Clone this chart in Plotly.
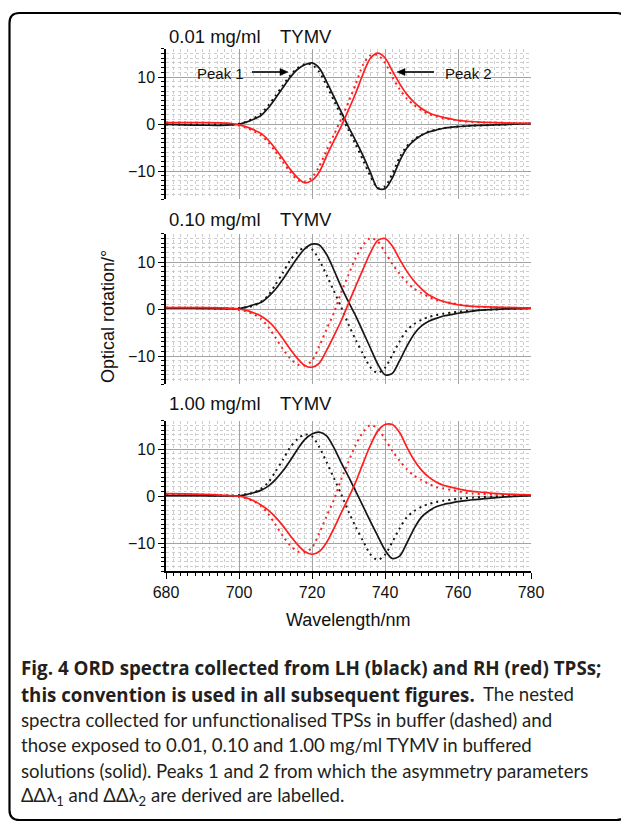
import plotly.graph_objects as go

# ---------------- data ----------------
wavelength = [680, 685, 690, 695,
              698, 700, 702, 704, 706, 708, 710, 712, 714, 716, 718, 720, 722, 724, 726, 728,
              730, 732, 734, 736, 738, 740, 742, 744, 746, 748, 750, 752, 754, 756, 758, 760,
              762, 764, 766,
              770, 775, 780]

panel_titles = ["0.01 mg/ml", "0.10 mg/ml", "1.00 mg/ml"]
virus_label = "TYMV"

# 0.01 mg/ml TYMV
p1_lh_tymv = [-0.1, -0.2, -0.25, -0.3,
              -0.2, -0.05, 0.4, 1.0, 1.8, 3.4, 5.5, 7.7, 9.9, 11.6, 12.6, 13.0, 11.9, 9.0, 5.8, 2.6,
              -0.6, -3.6, -6.8, -10.3, -13.7, -13.8, -11.5, -7.9, -5.1, -3.5, -2.4, -1.7, -1.3, -0.9, -0.7, -0.55,
              -0.45, -0.35, -0.3,
              -0.2, -0.05, 0.1]
p1_lh_buffer = [-0.1, -0.15, -0.2, -0.2,
                -0.15, 0.05, 0.5, 1.2, 2.2, 3.9, 6.0, 8.2, 10.3, 11.9, 12.7, 12.6, 11.1, 8.2, 5.0, 1.8,
                -1.3, -4.4, -7.7, -11.1, -13.6, -13.3, -10.6, -7.1, -4.7, -3.3, -2.3, -1.6, -1.2, -0.9, -0.7, -0.55,
                -0.45, -0.35, -0.3,
                -0.2, -0.05, 0.1]
p1_rh_tymv = [0.3, 0.3, 0.3, 0.25,
              0.1, -0.2, -0.6, -1.2, -2.0, -3.4, -5.3, -7.4, -9.6, -11.4, -12.5, -12.0, -10.2, -6.8, -3.6, -0.5,
              3.0, 6.6, 10.7, 14.0, 15.1, 14.1, 11.3, 8.6, 6.3, 4.6, 3.3, 2.4, 1.8, 1.4, 1.1, 0.8,
              0.6, 0.5, 0.4,
              0.3, 0.2, 0.15]
p1_rh_buffer = [0.3, 0.3, 0.25, 0.2,
                0.0, -0.3, -0.8, -1.5, -2.4, -3.9, -5.9, -8.0, -10.2, -11.9, -12.3, -11.4, -9.0, -5.6, -2.3, 1.1,
                4.7, 8.5, 12.6, 14.6, 14.7, 13.0, 10.0, 7.4, 5.4, 4.0, 2.9, 2.1, 1.6, 1.2, 1.0, 0.75,
                0.55, 0.45, 0.35,
                0.3, 0.2, 0.15]

# 0.10 mg/ml TYMV
p2_lh_tymv = [0.2, 0.2, 0.15, 0.1,
              0.05, 0.1, 0.4, 0.9, 1.4, 2.6, 4.2, 6.3, 8.6, 10.9, 12.8, 13.8, 13.6, 11.6, 8.3, 4.7,
              1.5, -1.5, -4.9, -8.3, -11.7, -14.0, -13.7, -11.0, -7.9, -5.3, -3.6, -2.6, -2.0, -1.5, -1.2, -0.9,
              -0.65, -0.45, -0.25,
              -0.1, 0.1, 0.2]
p2_rh_tymv = [0.3, 0.3, 0.3, 0.25,
              0.15, 0.0, -0.3, -0.8, -1.5, -2.6, -4.2, -6.3, -8.5, -10.5, -12.0, -12.4, -11.5, -8.8, -5.7, -2.5,
              1.2, 4.9, 8.5, 12.0, 14.6, 15.0, 13.4, 10.6, 8.0, 5.9, 4.3, 3.0, 2.2, 1.6, 1.2, 0.9,
              0.7, 0.55, 0.5,
              0.4, 0.3, 0.2]

# 1.00 mg/ml TYMV
p3_lh_tymv = [0.1, 0.1, 0.05, 0.0,
              0.0, 0.05, 0.3, 0.7, 1.2, 2.1, 3.5, 5.3, 7.5, 9.9, 12.0, 13.2, 13.6, 12.8, 10.3, 7.1,
              4.1, 1.0, -2.2, -5.4, -8.5, -11.5, -13.3, -12.8, -10.0, -6.9, -4.5, -3.2, -2.3, -1.8, -1.5, -1.2,
              -1.0, -0.8, -0.65,
              -0.4, -0.1, 0.1]
p3_rh_tymv = [0.5, 0.45, 0.35, 0.2,
              0.05, 0.0, -0.4, -1.0, -1.9, -3.0, -4.5, -6.3, -8.4, -10.3, -11.8, -12.4, -11.8, -9.9, -6.9, -3.6,
              -0.4, 3.0, 7.0, 10.8, 13.8, 15.2, 15.2, 13.5, 10.4, 7.6, 5.5, 4.0, 3.0, 2.3, 1.9, 1.5,
              1.2, 1.0, 0.85,
              0.55, 0.35, 0.25]

# buffer (dashed) spectra shown in the 0.10 and 1.00 mg/ml panels
p23_lh_buffer = [0.2, 0.2, 0.15, 0.1,
                 0.1, 0.2, 0.4, 0.7, 1.5, 2.9, 5.2, 7.7, 10.3, 12.1, 13.1, 12.7, 10.4, 7.2, 3.8, 0.4,
                 -3.3, -6.6, -9.6, -12.4, -13.6, -12.5, -9.8, -6.9, -4.5, -3.2, -2.3, -1.7, -1.3, -1.0, -0.8, -0.6,
                 -0.45, -0.35, -0.25,
                 -0.1, 0.05, 0.15]
p23_rh_buffer = [0.3, 0.3, 0.3, 0.2,
                 0.0, -0.2, -0.5, -1.1, -2.1, -3.8, -6.1, -8.5, -10.5, -11.8, -12.0, -11.0, -7.9, -4.3, -0.8, 3.5,
                 7.3, 10.9, 13.6, 15.1, 14.4, 12.1, 9.6, 7.5, 5.7, 4.3, 3.4, 2.6, 1.9, 1.6, 1.3, 1.0,
                 0.7, 0.55, 0.45,
                 0.35, 0.25, 0.2]

x_ticks = [680, 700, 720, 740, 760, 780]
y_ticks = [-10, 0, 10]

panels = [
    dict(lh=p1_lh_tymv, rh=p1_rh_tymv, lh_buf=p1_lh_buffer, rh_buf=p1_rh_buffer),
    dict(lh=p2_lh_tymv, rh=p2_rh_tymv, lh_buf=p23_lh_buffer, rh_buf=p23_rh_buffer),
    dict(lh=p3_lh_tymv, rh=p3_rh_tymv, lh_buf=p23_lh_buffer, rh_buf=p23_rh_buffer),
]
for p in panels:
    for k, v in p.items():
        assert len(v) == len(wavelength), (k, len(v))

# ---------------- layout helpers ----------------
# the page body adds an 8px margin, so the figure is made 8px smaller and
# every target-screen pixel position is shifted by that offset
OFF = 8
W, H = 629 - OFF, 822 - OFF
def px(x):
    return (x - OFF) / W
def py(y):
    return 1 - (y - OFF) / H

BLACK = "#161616"
RED = "#ff1f1f"
MAJOR_GRID = "#a3a3a3"
MINOR_GRID = "#cdcdcd"
FONT = "Liberation Sans, Arial, sans-serif"

x_dom = [px(166), px(531)]
y_zero_px = [124, 309, 496]
unit_px = 4.7
y_range = [-16, 16]

fig = go.Figure()

for i, p in enumerate(panels):
    xa = "x" if i == 0 else f"x{i+1}"
    ya = "y" if i == 0 else f"y{i+1}"
    for key, color, dash in [("lh_buf", BLACK, "2px,4px"), ("rh_buf", RED, "2px,4px"),
                             ("lh", BLACK, "solid"), ("rh", RED, "solid")]:
        fig.add_trace(go.Scatter(
            x=wavelength, y=p[key], mode="lines", xaxis=xa, yaxis=ya,
            line=dict(color=color, width=1.7 if dash == "solid" else 2.0, dash=dash,
                      shape="spline", smoothing=0.8),
            showlegend=False, hoverinfo="skip"))

layout = dict(
    width=W, height=H, margin=dict(l=0, r=0, t=0, b=0, pad=0), autosize=False,
    paper_bgcolor="white", plot_bgcolor="white",
    font=dict(family=FONT, color="#111111", size=16),
    showlegend=False,
)
for i in range(3):
    xk = "xaxis" if i == 0 else f"xaxis{i+1}"
    yk = "yaxis" if i == 0 else f"yaxis{i+1}"
    ya = "y" if i == 0 else f"y{i+1}"
    xa = "x" if i == 0 else f"x{i+1}"
    y0 = y_zero_px[i]
    top = y0 - 16 * unit_px
    bot = y0 + 16 * unit_px
    last = (i == 2)
    layout[xk] = dict(
        domain=x_dom, range=[680, 780], anchor=ya, automargin=False,
        tickvals=x_ticks, showticklabels=last,
        ticks="outside" if last else "", ticklen=6, tickwidth=1.2, tickcolor="black",
        showline=last, linecolor="black", linewidth=1.5,
        showgrid=True, gridcolor=MAJOR_GRID, gridwidth=1, zeroline=False,
        tickfont=dict(size=16, family=FONT, color="#111"),
        minor=dict(dtick=2, tick0=680, showgrid=True, gridcolor=MINOR_GRID, griddash="dot",
                   gridwidth=1, ticks="outside" if last else "", ticklen=3.5,
                   tickcolor="black", tickwidth=1),
    )
    layout[yk] = dict(
        domain=[py(bot), py(top)], range=y_range, anchor=xa, automargin=False,
        tickvals=y_ticks, ticks="outside", ticklen=6, tickwidth=1.2, tickcolor="black",
        showline=True, linecolor="black", linewidth=1.5,
        showgrid=True, gridcolor=MAJOR_GRID, gridwidth=1, zeroline=False,
        tickfont=dict(size=16, family=FONT, color="#111"),
        minor=dict(dtick=1, tick0=0, showgrid=True, gridcolor=MINOR_GRID, griddash="dot",
                   gridwidth=1, ticks="outside", ticklen=3.5, tickcolor="black", tickwidth=1),
    )
fig.update_layout(**layout)

ann = []
title_y = [37, 219, 403]
for i, t in enumerate(panel_titles):
    ann.append(dict(x=px(167), y=py(title_y[i]), xref="paper", yref="paper", text=t,
                    showarrow=False, xanchor="left", yanchor="middle",
                    font=dict(size=18.5, family=FONT, color="#111")))
    ann.append(dict(x=px(278), y=py(title_y[i]), xref="paper", yref="paper", text=virus_label,
                    showarrow=False, xanchor="left", yanchor="middle",
                    font=dict(size=18.5, family=FONT, color="#111")))

# axis titles
ann.append(dict(x=px(108), y=py(317), xref="paper", yref="paper", text="Optical rotation/°",
                textangle=-90, showarrow=False, xanchor="center", yanchor="middle",
                font=dict(size=18, family=FONT, color="#111")))
ann.append(dict(x=px(348), y=py(620), xref="paper", yref="paper", text="Wavelength/nm",
                showarrow=False, xanchor="center", yanchor="middle",
                font=dict(size=18, family=FONT, color="#111")))

# peak labels (panel 1)
ann.append(dict(x=px(195), y=py(73), xref="paper", yref="paper", text="Peak 1",
                showarrow=False, xanchor="left", yanchor="middle",
                font=dict(size=15, family=FONT, color="#111")))
ann.append(dict(x=px(443), y=py(73), xref="paper", yref="paper", text="Peak 2",
                showarrow=False, xanchor="left", yanchor="middle",
                font=dict(size=15, family=FONT, color="#111")))

# caption
CAP = "Lato, Open Sans, sans-serif"
CAP_B = "Open Sans, Lato, sans-serif"
CAP_COLOR = "#231f20"
caption_parts = [
    # (text, x_px, y_px, size, family)
    ("<b>Fig. 4 ORD spectra collected from LH (black) and RH (red) TPSs;</b>", 19, 668, 18.8, CAP_B),
    ("<b>this convention is used in all subsequent figures.</b>", 19, 694, 18.7, CAP_B),
    ("The nested", 481, 694, 18.6, CAP),
    ("spectra collected for unfunctionalised TPSs in buffer (dashed) and", 19, 720, 18.6, CAP),
    ("those exposed to 0.01, 0.10 and 1.00 mg/ml TYMV in buffered", 19, 745, 18.6, CAP),
    ("solutions (solid). Peaks 1 and 2 from which the asymmetry parameters", 19, 771, 18.6, CAP),
    ("ΔΔλ<sub>1</sub> and ΔΔλ<sub>2</sub> are derived are labelled.", 19, 796, 18.6, CAP),
]
for t, xx, yy, sz, fam in caption_parts:
    ann.append(dict(x=px(xx), y=py(yy), xref="paper", yref="paper", text=t,
                    showarrow=False, xanchor="left", yanchor="middle",
                    font=dict(size=sz, family=fam, color=CAP_COLOR)))

fig.update_layout(annotations=ann)

shapes = []
# arrows next to the peak labels: shaft + filled head
for tail, tip in [(252, 288), (434, 397)]:
    yv = 72
    back = tip - 8 if tip > tail else tip + 8
    shapes.append(dict(type="line", xref="paper", yref="paper",
                       x0=px(tail), y0=py(yv), x1=px(back), y1=py(yv),
                       line=dict(color="black", width=1.6)))
    head = (f"M {px(tip)},{py(yv)} L {px(back)},{py(yv - 3.5)} "
            f"L {px(back)},{py(yv + 3.5)} Z")
    shapes.append(dict(type="path", path=head, xref="paper", yref="paper",
                       fillcolor="black", line=dict(color="black", width=0.5)))

# rounded border box
L, R, T, B, r = 9.5, 626.5, 13, 820, 10
path = (f"M {px(L+r)},{py(T)} L {px(R-r)},{py(T)} Q {px(R)},{py(T)} {px(R)},{py(T+r)} "
        f"L {px(R)},{py(B-r)} Q {px(R)},{py(B)} {px(R-r)},{py(B)} "
        f"L {px(L+r)},{py(B)} Q {px(L)},{py(B)} {px(L)},{py(B-r)} "
        f"L {px(L)},{py(T+r)} Q {px(L)},{py(T)} {px(L+r)},{py(T)} Z")
shapes.append(dict(type="path", path=path, xref="paper", yref="paper",
                   line=dict(color="black", width=2.2), fillcolor="rgba(0,0,0,0)"))
fig.update_layout(shapes=shapes)

fig.write_html("out.html")
